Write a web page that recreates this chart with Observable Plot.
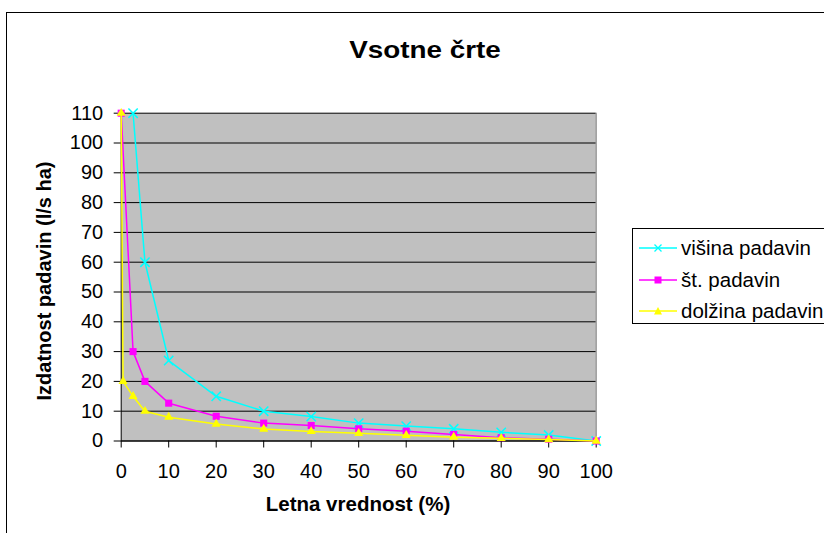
<!DOCTYPE html>
<html>
<head>
<meta charset="utf-8">
<script src="https://cdn.jsdelivr.net/npm/d3@7"></script>
<script src="https://cdn.jsdelivr.net/npm/@observablehq/plot@0.6"></script>
<style>
  html, body { margin: 0; padding: 0; background: #fff; }
  #wrap { position: relative; width: 824px; height: 533px; overflow: hidden; background: #fff;
          font-family: "Liberation Sans", Arial, sans-serif; color: #000; }
  #frame { position: absolute; left: 6px; top: 12px; width: 900px; height: 600px; border: 1px solid #000; box-sizing: border-box; }
  #title { position: absolute; left: 424.5px; top: 38px; font-size: 24px; font-weight: bold; line-height: 24px;
           white-space: nowrap; transform: translateX(-50%) scaleX(1.16); }
  #ylab { position: absolute; left: 44px; top: 281px; font-size: 20px; font-weight: bold; line-height: 20px;
          white-space: nowrap; transform: translate(-50%, -50%) rotate(-90deg); }
  #xlab { position: absolute; left: 358px; top: 494px; font-size: 20.5px; font-weight: bold; line-height: 20px;
          white-space: nowrap; transform: translateX(-50%); }
  #chart { position: absolute; left: 0; top: 0; }
  #legend { position: absolute; left: 632px; top: 228px; width: 300px; height: 96px; border: 1px solid #000;
            box-sizing: border-box; background: #fff; }
  .item { position: absolute; left: 6px; height: 30px; display: flex; align-items: center; font-size: 20.5px; white-space: nowrap; }
  .item svg { margin-right: 4px; }
</style>
</head>
<body>
<div id="wrap">
  <div id="frame"></div>
  <div id="title">Vsotne črte</div>
  <div id="ylab">Izdatnost padavin (l/s ha)</div>
  <div id="xlab">Letna vrednost (%)</div>
  <div id="chart"></div>
  <div id="legend"></div>
</div>
<script>
// ---- data ----
const seriesNames = ["višina padavin", "št. padavin", "dolžina padavin"];
const seriesColors = ["#00ffff", "#ff00ff", "#ffff00"];

const visinaX = [2.5, 5, 10, 20, 30, 40, 50, 60, 70, 80, 90, 100];
const visinaY = [110, 60, 27, 15, 10, 8.2, 6, 5, 4.1, 2.9, 2, 0];

const stX = [0, 2.5, 5, 10, 20, 30, 40, 50, 60, 70, 80, 90, 100];
const stY = [110, 30, 20, 12.7, 8.3, 6, 5.2, 4.1, 3.3, 2.2, 1.1, 0.6, 0];

const dolzinaX = [0, 0.4, 2.5, 5, 10, 20, 30, 40, 50, 60, 70, 80, 90, 100];
const dolzinaY = [110, 20, 15, 10, 8, 5.7, 4, 3.2, 2.6, 1.9, 1.3, 0.9, 0.5, 0];

const xTicks = [0, 10, 20, 30, 40, 50, 60, 70, 80, 90, 100];
const yTicks = [0, 10, 20, 30, 40, 50, 60, 70, 80, 90, 100, 110];

// ---- build tables ----
const toRows = (xs, ys) => xs.map((x, i) => ({x, y: ys[i]}));
const visina = toRows(visinaX, visinaY);
const st = toRows(stX, stY);
const dolzina = toRows(dolzinaX, dolzinaY);

const chart = Plot.plot({
  width: 824,
  height: 533,
  marginLeft: 120.7,
  marginRight: 228.3,
  marginTop: 112.7,
  marginBottom: 92.5,
  style: {background: "none", fontFamily: "Liberation Sans, Arial, sans-serif", fontSize: "20px", color: "#000", overflow: "visible"},
  x: {domain: [0, 100]},
  y: {domain: [0, 110]},
  marks: [
    Plot.frame({fill: "#c0c0c0", stroke: null}),
    Plot.ruleY(yTicks, {stroke: "#000", strokeWidth: 1}),
    Plot.ruleX([100], {stroke: "#808080", strokeWidth: 1}),
    Plot.ruleX([0], {stroke: "#000", strokeWidth: 1}),
    Plot.ruleY([0], {stroke: "#000", strokeWidth: 1}),
    Plot.axisY({ticks: yTicks, tickSize: 7, tickPadding: 11, label: null, stroke: "#000", strokeOpacity: 1}),
    Plot.axisX({ticks: xTicks, tickSize: 7, tickPadding: 16, label: null, stroke: "#000", strokeOpacity: 1}),
    Plot.line(visina, {x: "x", y: "y", stroke: seriesColors[0], strokeWidth: 1.5}),
    Plot.dot(visina, {x: "x", y: "y", symbol: "times", r: 4.3, stroke: seriesColors[0], strokeWidth: 1.5}),
    Plot.line(st, {x: "x", y: "y", stroke: seriesColors[1], strokeWidth: 1.5}),
    Plot.dot(st, {x: "x", y: "y", symbol: "square", r: 4, fill: seriesColors[1], stroke: null}),
    Plot.line(dolzina, {x: "x", y: "y", stroke: seriesColors[2], strokeWidth: 1.5}),
    Plot.dot(dolzina, {x: "x", y: "y", symbol: "triangle", r: 3.4, fill: seriesColors[2], stroke: null})
  ]
});
document.getElementById("chart").appendChild(chart);

// ---- legend ----
const legend = document.getElementById("legend");
const symbols = ["times", "square", "triangle"];
const itemTops = [4, 36, 67];
seriesNames.forEach((name, i) => {
  const item = document.createElement("div");
  item.className = "item";
  item.style.top = itemTops[i] + "px";
  const c = seriesColors[i];
  let marker;
  if (symbols[i] === "times") marker = `<path d="M15.5,-3.5L22.5,3.5M22.5,-3.5L15.5,3.5" transform="translate(0,0)" stroke="${c}" stroke-width="1.3" fill="none"/>`;
  else if (symbols[i] === "square") marker = `<rect x="15.5" y="-3.5" width="7" height="7" fill="${c}"/>`;
  else marker = `<path d="M19,-4L23,3.5L15,3.5Z" fill="${c}"/>`;
  item.innerHTML = `<svg width="38" height="14" viewBox="0 -7 38 14"><line x1="0" y1="0" x2="38" y2="0" stroke="${c}" stroke-width="1.5"/>${marker}</svg><span>${name}</span>`;
  legend.appendChild(item);
});
</script>
</body>
</html>
